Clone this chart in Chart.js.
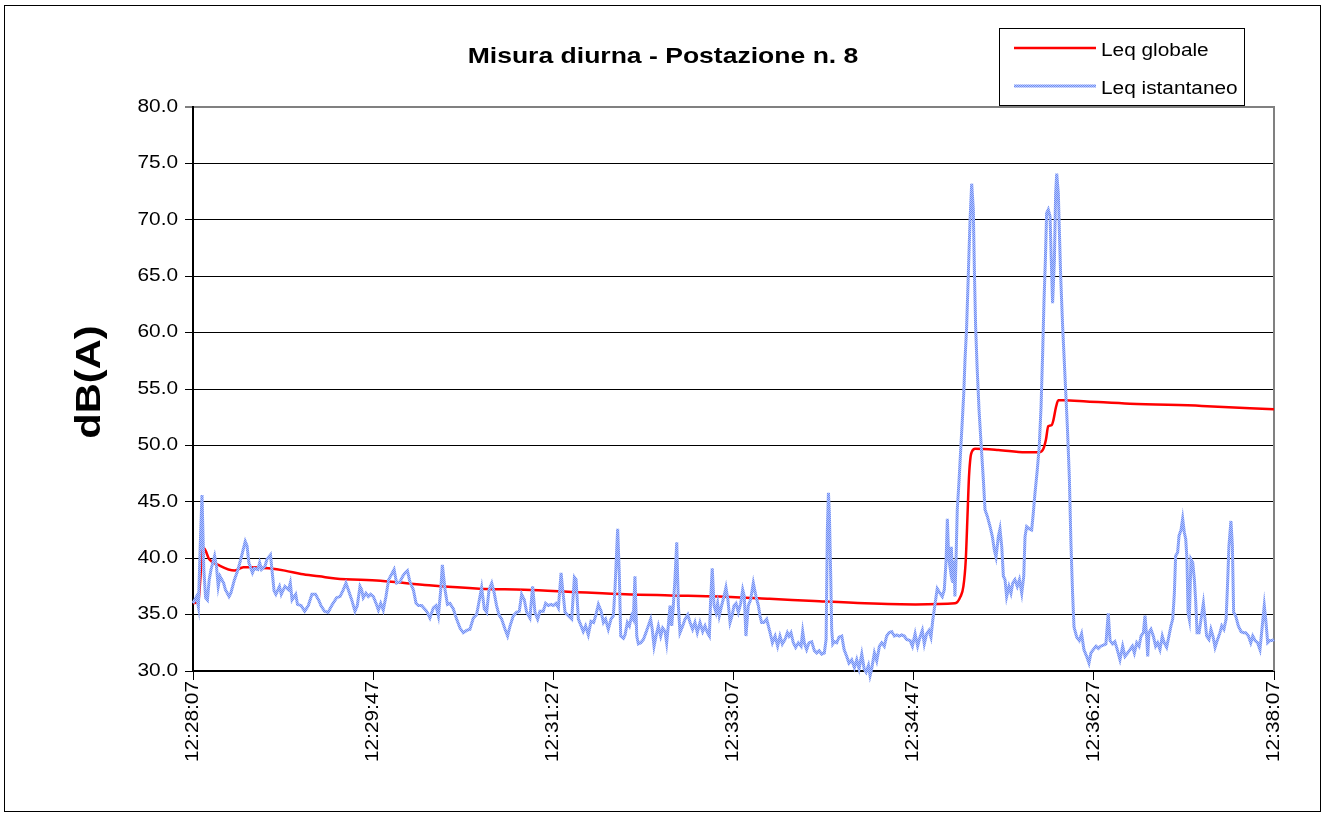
<!DOCTYPE html>
<html>
<head>
<meta charset="utf-8">
<script src="https://cdn.jsdelivr.net/npm/chart.js@4.4.1/dist/chart.umd.min.js"></script>
<style>
html,body{margin:0;padding:0;background:#fff;}
canvas{display:block;}
</style>
</head>
<body>
<canvas id="c" width="1325" height="816" style="width:1325px;height:816px"></canvas>
<script>
// ---- texts ----
const chartTitle = 'Misura diurna - Postazione n. 8';
const yAxisTitle = 'dB(A)';
const startTime = '12:28:07';          // time at x = 0 s
const xRange = [0, 600];                // seconds after start
const xTickStep = 100;                  // seconds between x tick labels
const yRange = [30, 80];
const yTickStep = 5;

// ---- series: Leq globale (seconds after start, dB(A)) ----
const globalLabel = 'Leq globale';
const globalTimes = [0,3,4,5,6,9,14,23,28,33,42,51,60,70,79,104,131,159,184,212,240,265,292,320,345,373,401,423,426,427.6,428.9,430,430.7,431.6,432.2,434.1,447,462,470,472,473.4,474.7,476.6,477.5,479,480.3,483,496,520,560,600];
const globalValues = [36.0,36.2,38.0,40.5,40.9,39.9,39.4,38.9,39.2,39.2,39.1,38.9,38.6,38.4,38.2,38.0,37.6,37.3,37.2,37.0,36.8,36.7,36.6,36.4,36.2,36.0,35.9,36.0,36.6,37.5,39.8,44.3,47.2,49.0,49.4,49.7,49.6,49.4,49.4,49.7,50.5,51.7,51.8,52.2,53.4,54.0,54.0,53.9,53.7,53.5,53.2];

// ---- series: Leq istantaneo (seconds after start, dB(A)) ----
const istLabel = 'Leq istantaneo';
const istTimes = [
0,2,3,4,5,6,7,8,9,10,12,13,14,15,17,18,20,21,23,25,27,29,30,31,33,34,36,37,38,40,41,43,44,45,46,48,49,51,53,54,55,57,58,60,62,64,66,68,70,71,73,75,77,
79.7,81.6,83.4,84.9,86.2,88.1,89.9,91.2,92.7,93.6,94.5,96,97.3,98.6,100.1,101.6,102.9,104.2,105.6,107.1,108.6,110.3,111.6,113,114.9,116.4,117.7,119,120.4,122.3,123.8,125.1,126.9,129.7,131.5,133.4,134.9,136.2,137.5,138.4,139.9,141.2,142.6,144.5,146.3,148.2,150,151.9,153.7,155.6,157.4,
158,160.2,161.7,163,164.3,165.8,167.2,168.5,169.8,171.3,173.2,174.6,176,177.8,179.6,181.1,182.4,183.9,185.2,187,188.5,189.8,191.3,192.6,194.4,195.7,197.2,198.7,200,201.5,202.8,204.3,205.2,206.5,208.3,210.2,211.7,212.6,213.9,215.4,216.6,217.9,219.4,220.9,222.4,223.5,225,226.5,227.8,229,230.5,232,233.3,234.2,235.7,236.6,237.4,238.9,239.8,
241.1,242.2,243.5,244.4,245.3,246.3,247.2,248.5,250,251.4,252.7,254,254.9,255.9,257,258.3,259.6,260.7,262,262.9,263.8,264.8,265.7,266.6,267.5,268.5,269.4,270.3,271.8,273.1,274.6,275.9,277.3,278.6,279.9,281.4,282.9,284.2,285.5,286.6,287.3,288.2,289.2,290.3,291.2,292.1,293.4,294.7,295.8,296.9,298.1,299.2,300.3,301.4,302.7,304,305.1,306,306.9,308.2,309.5,311,312.5,313.8,314.7,315.6,316.9,318.4,
320.3,321.6,323.1,324.5,325.8,327.1,328.6,329.9,330.8,331.9,333.2,334.5,336,337.5,338.4,339.3,340.6,341.9,343.4,344.9,346.2,347.5,349,350.4,351.4,352.1,352.7,353.2,354,354.5,355.1,356,357.3,358.6,360.1,361.4,362.8,364.1,365.6,367.1,368.4,369.7,371.2,372.5,373.6,374.9,375.8,376.7,378.2,379.5,381,382.3,383.7,385,386.3,387.8,389.3,390.6,391.9,393.4,394.8,396.1,
398,399.3,400.8,402.2,403.5,404.8,405.9,407.2,408.5,409.6,410.6,411.9,413.1,414.6,415.9,417,418,418.7,419.4,420.2,420.9,421.7,422.4,422.9,423.5,424.2,425.2,426.3,427,427.8,428.5,429.4,430.4,431.3,432.2,433.1,433.7,434.4,435.2,436.3,437.4,438.7,439.6,440.9,442.4,443.7,444.8,445.7,447,447.9,448.9,449.8,450.7,451.6,452.9,454,455,456.2,457.5,458.7,460,461.1,
461.8,462.7,464.2,465.5,466.4,467.3,468.6,469.7,470.7,471.6,472.3,473.1,473.8,474.7,475.7,476.4,477.1,478.1,478.8,479.4,480.3,480.8,481.6,482.7,484,485.3,486.4,487.3,488.2,489,490.5,491.9,493.2,494.5,496,497.3,498.4,499.7,501.2,502.5,503.8,505.3,506.7,508,509,510.4,511.7,513,514.5,516,
517.3,518.8,520.1,521.4,522.5,523.8,525.1,526.2,527.5,528.4,529.3,529.9,530.6,531.7,533,534.3,535.4,536.7,538,539.1,540.4,541.7,542.8,543.8,544.7,545.4,546.5,547.3,548.4,549.3,550.2,551,551.7,552.3,553,553.9,554.9,555.8,556.5,557.3,558.4,559.5,560.8,561.7,562.6,563.9,565,566.1,567.3,568.7,570,571,572.2,573.4,574.1,575,576.1,576.9,577.6,578.7,580.2,581.7,583,584.3,585.8,587.1,588.2,589.5,590.9,592.2,593.5,594.6,595.4,596.5,597.8,599.1,600];
const istValues = [
36.0,36.6,35.7,41.0,45.6,39.0,36.5,36.3,38.1,39.0,40.2,39.3,37.5,38.4,37.8,37.2,36.6,36.9,38.1,39.0,40.2,41.5,41.1,39.6,38.7,39.1,39.0,39.6,39.0,39.3,39.9,40.3,38.7,37.1,36.8,37.5,36.8,37.5,37.2,37.8,36.3,36.8,35.9,35.8,35.3,35.8,36.8,36.8,36.2,35.8,35.3,35.2,35.8,
36.5,36.6,37.2,37.8,37.2,36.3,35.3,35.8,37.5,37.2,36.5,36.9,36.6,36.8,36.6,36.0,35.4,36.0,35.4,36.6,38.1,38.6,39.0,37.8,37.9,38.4,38.7,38.9,37.9,37.2,36.0,35.8,35.8,35.3,34.7,35.6,35.8,34.9,37.2,39.4,37.2,35.9,36.0,35.5,34.6,33.8,33.4,33.6,33.7,34.7,35.0,
35.5,37.4,35.5,35.2,37.2,37.8,36.9,35.8,35.0,34.6,33.7,33.1,34.0,34.9,35.2,35.3,36.8,36.3,35.2,34.7,37.5,35.2,34.6,35.3,35.3,36.0,35.8,35.9,35.8,36.0,35.6,38.7,37.2,35.2,34.9,34.6,38.3,38.1,34.6,34.0,33.5,34.0,33.2,34.4,34.3,34.9,35.9,35.3,34.3,34.6,33.7,34.6,34.9,37.2,42.6,38.7,33.1,32.9,33.2,
34.3,34.0,34.9,34.6,38.4,33.1,32.4,32.5,32.8,33.4,34.0,34.6,33.7,32.2,33.1,34.0,33.1,33.8,33.5,32.5,34.0,35.8,34.0,35.8,38.1,41.4,35.8,33.4,34.0,34.6,35.0,34.3,33.7,34.3,33.4,34.3,33.5,34.0,33.4,33.1,36.3,39.1,35.8,35.2,36.0,34.9,35.8,36.6,37.4,36.3,34.3,34.9,35.8,36.0,35.2,36.0,37.2,36.6,33.1,35.8,36.3,37.8,36.6,35.8,34.9,34.3,34.3,34.6,
33.4,32.5,33.1,32.2,33.1,32.4,32.8,33.4,33.1,33.4,32.5,32.1,32.5,32.2,33.5,32.5,31.9,32.5,32.6,31.8,31.6,31.8,31.5,31.6,32.8,42.5,45.8,44.0,38.1,33.7,32.4,32.6,32.5,33.0,33.1,31.9,31.3,30.7,31.0,30.3,31.0,30.2,31.5,30.2,29.9,30.5,29.6,30.2,31.6,30.9,32.2,32.5,32.2,33.1,33.4,33.5,33.1,33.2,33.1,33.2,33.1,32.8,
32.7,32.2,33.3,32.2,33.0,33.6,32.4,33.3,33.6,33.0,34.5,36.0,37.3,36.9,36.6,37.2,39.8,43.5,40.1,39.2,41.0,37.8,39.8,36.6,39.8,44.3,46.9,50.2,52.2,54.6,57.6,60.5,65.5,70.0,73.2,70.9,65.5,60.5,57.0,53.1,50.2,46.9,44.3,43.7,42.8,41.9,40.7,40.1,41.9,42.6,41.0,38.4,38.1,36.6,37.5,36.9,37.8,38.1,37.5,38.1,36.9,38.4,
41.9,42.8,42.6,42.5,44.0,45.7,47.8,49.9,53.4,58.2,62.6,66.4,70.6,70.9,70.3,66.4,62.6,66.4,72.3,74.1,72.3,69.4,65.0,60.5,56.1,51.7,47.2,41.3,36.9,33.9,33.0,32.7,33.3,31.9,31.3,30.7,31.6,31.9,32.2,32.0,32.2,32.3,32.4,35.1,32.7,32.4,32.6,31.9,31.0,32.2,
31.3,31.6,31.9,32.2,31.6,32.5,32.2,33.1,33.4,34.9,33.1,31.3,33.4,33.7,33.1,32.2,32.5,31.9,33.1,32.5,32.1,33.1,34.0,34.6,36.9,40.2,40.5,42.0,42.5,43.5,42.3,41.7,39.9,35.2,34.6,39.9,39.6,38.1,36.3,33.4,33.4,34.6,36.0,34.6,33.1,32.8,33.7,33.1,32.1,32.8,33.4,34.0,33.7,34.6,37.2,41.1,43.3,41.1,35.2,34.9,34.0,33.5,33.4,33.4,33.1,32.5,33.1,32.7,32.5,31.9,34.0,35.8,34.6,32.5,32.7,32.7,32.8];

// ---- helpers ----
function fmtTime(sec) {
  const p = startTime.split(':').map(Number);
  let s = p[0] * 3600 + p[1] * 60 + p[2] + Math.round(sec);
  const h = Math.floor(s / 3600); s -= h * 3600;
  const m = Math.floor(s / 60); s -= m * 60;
  const z = n => String(n).padStart(2, '0');
  return z(h) + ':' + z(m) + ':' + z(s);
}
const FAMILY = '"Liberation Sans", Arial, Helvetica, sans-serif';

const canvas = document.getElementById('c');
const ctx = canvas.getContext('2d');

// The reference renders every text with wide glyphs: stretch text along its own direction.
const TEXT_SX = 1.19;
const nativeFillText = CanvasRenderingContext2D.prototype.fillText;
ctx.fillText = function (text, x, y, maxWidth) {
  this.save();
  this.translate(x, y);
  this.scale(TEXT_SX, 1);
  if (maxWidth === undefined || maxWidth === null) nativeFillText.call(this, text, 0, 0);
  else nativeFillText.call(this, text, 0, 0, maxWidth / TEXT_SX);
  this.restore();
};

// dotted light-blue line texture (Excel-like)
const pc = document.createElement('canvas');
pc.width = 2; pc.height = 2;
const pctx = pc.getContext('2d');
pctx.fillStyle = '#b4c4ff'; pctx.fillRect(0, 0, 2, 2);
pctx.fillStyle = '#6e8df2'; pctx.fillRect(0, 0, 1, 1); pctx.fillRect(1, 1, 1, 1);
const bluePattern = ctx.createPattern(pc, 'repeat');

const decorPlugin = {
  id: 'decor',
  beforeDraw(chart) {
    const c = chart.ctx;
    c.save();
    c.fillStyle = '#fff';
    c.fillRect(0, 0, chart.width, chart.height);
    c.restore();
  },
  beforeDatasetsDraw(chart) {
    const c = chart.ctx, a = chart.chartArea;
    c.save();
    c.strokeStyle = '#808080';
    c.lineWidth = 2;
    c.beginPath();
    c.moveTo(a.right, a.top - 1);
    c.lineTo(a.right, a.bottom);
    c.stroke();
    c.restore();
  },
  afterDraw(chart) {
    const c = chart.ctx;
    c.save();
    // outer frame
    c.strokeStyle = '#000';
    c.lineWidth = 1;
    c.strokeRect(4.5, 5.5, 1316, 806);

    // title
    c.fillStyle = '#000';
    c.font = 'bold 22.3px ' + FAMILY;
    c.textAlign = 'center';
    c.textBaseline = 'alphabetic';
    c.fillText(chartTitle, 663, 62.7);

    // y axis title
    c.save();
    c.font = 'bold 35px ' + FAMILY;
    c.translate(100, 382);
    c.rotate(-Math.PI / 2);
    c.textAlign = 'center';
    c.textBaseline = 'alphabetic';
    c.fillText(yAxisTitle, 0, 0);
    c.restore();

    // legend
    const lx = 999.5, ly = 28.5, lw = 245, lh = 77;
    c.fillStyle = '#fff';
    c.fillRect(lx, ly, lw, lh);
    c.strokeStyle = '#000';
    c.lineWidth = 1;
    c.strokeRect(lx, ly, lw, lh);
    const rows = [48, 86];
    const bases = [56, 93.7];
    c.font = '17.5px ' + FAMILY;
    c.textAlign = 'left';
    chart.data.datasets.forEach((ds, i) => {
      c.beginPath();
      c.strokeStyle = ds.borderColor;
      c.lineWidth = ds.borderWidth;
      c.moveTo(1014, rows[i]);
      c.lineTo(1096, rows[i]);
      c.stroke();
      c.fillStyle = '#000';
      c.fillText(ds.label, 1101, bases[i]);
    });
    c.restore();
  }
};

new Chart(canvas, {
  type: 'line',
  data: {
    datasets: [
      {
        label: globalLabel,
        data: globalTimes.map((t, i) => ({ x: t, y: globalValues[i] })),
        borderColor: '#ff0000',
        borderWidth: 2.5,
        pointRadius: 0,
        cubicInterpolationMode: 'monotone',
        fill: false,
        order: 1
      },
      {
        label: istLabel,
        data: istTimes.map((t, i) => ({ x: t, y: istValues[i] })),
        borderColor: bluePattern,
        borderWidth: 3,
        pointRadius: 0,
        tension: 0,
        fill: false,
        clip: false,
        order: 0
      }
    ]
  },
  options: {
    responsive: false,
    animation: false,
    devicePixelRatio: 1,
    events: [],
    layout: { padding: { left: 0, right: 51, top: 107, bottom: 0 } },
    plugins: { legend: { display: false }, title: { display: false }, tooltip: { enabled: false } },
    scales: {
      x: {
        type: 'linear',
        min: xRange[0],
        max: xRange[1],
        afterFit(s) { s.height = 145; },
        ticks: {
          stepSize: xTickStep,
          autoSkip: false,
          minRotation: 90,
          maxRotation: 90,
          padding: 1,
          color: '#000',
          font: { family: FAMILY, size: 17.5 },
          callback: v => fmtTime(v)
        },
        grid: { display: true, drawOnChartArea: false, drawTicks: true, tickLength: 9, tickColor: '#000', tickWidth: 1 },
        border: { display: true, color: '#000', width: 2 }
      },
      y: {
        min: yRange[0],
        max: yRange[1],
        afterFit(s) { s.width = 193; },
        ticks: {
          stepSize: yTickStep,
          padding: 7,
          color: '#000',
          font: { family: FAMILY, size: 17.5 },
          callback: v => Number(v).toFixed(1)
        },
        grid: {
          color: c => (c.tick && c.tick.value === yRange[1]) ? '#808080' : '#000',
          lineWidth: c => (c.tick && c.tick.value === yRange[1]) ? 2 : 1,
          drawTicks: true,
          tickLength: 8,
          tickColor: '#000',
          tickWidth: 1
        },
        border: { display: true, color: '#000', width: 2 }
      }
    }
  },
  plugins: [decorPlugin]
});
</script>
</body>
</html>
